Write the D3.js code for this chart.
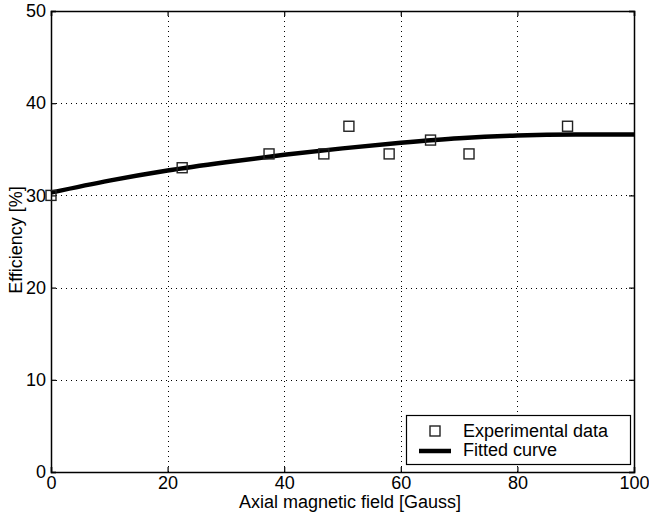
<!DOCTYPE html>
<html><head><meta charset="utf-8">
<script src="https://cdn.jsdelivr.net/npm/d3@7"></script>
<style>body{margin:0;background:#fff;} text{font-family:"Liberation Sans",Arial,Helvetica,sans-serif;fill:#000;}</style>
</head><body><svg id="c" width="649" height="518"></svg>
<script>
const expX = [0, 22.5, 37.4, 46.8, 51.1, 58.0, 65.1, 71.7, 88.6];
const expY = [30.0, 33.0, 34.5, 34.5, 37.5, 34.5, 36.0, 34.5, 37.5];
const fitX = [0, 10, 20, 30, 40, 50, 60, 70, 80, 90, 100];
const fitY = [30.3, 31.6, 32.7, 33.6, 34.4, 35.1, 35.7, 36.2, 36.5, 36.6, 36.6];
const xTicks = [0, 20, 40, 60, 80, 100];
const yTicks = [0, 10, 20, 30, 40, 50];
const xLabel = "Axial magnetic field [Gauss]";
const yLabel = "Efficiency [%]";
const legendLabels = ["Experimental data", "Fitted curve"];

const L = 51, R = 634, T = 11, B = 472;
const svg = d3.select("#c");
const x = d3.scaleLinear().domain([0, 100]).range([L, R]);
const y = d3.scaleLinear().domain([0, 50]).range([B, T]);

// grid
const grid = svg.append("g").attr("stroke", "#000").attr("stroke-width", 1).attr("stroke-dasharray", "1,4");
grid.selectAll(".gx").data(xTicks.slice(1, -1)).enter().append("line")
  .attr("x1", d => Math.round(x(d)) + 0.5).attr("x2", d => Math.round(x(d)) + 0.5).attr("y1", T).attr("y2", B);
grid.selectAll(".gy").data(yTicks.slice(1, -1)).enter().append("line")
  .attr("y1", d => Math.round(y(d)) + 0.5).attr("y2", d => Math.round(y(d)) + 0.5).attr("x1", L).attr("x2", R);

// axes (inward ticks)
const fs = 18;
const axB = svg.append("g").attr("transform", `translate(0,${B})`)
  .call(d3.axisBottom(x).tickValues(xTicks).tickSize(-5).tickPadding(4));
const axT = svg.append("g").attr("transform", `translate(0,${T})`)
  .call(d3.axisTop(x).tickValues(xTicks).tickSize(-5).tickFormat(""));
const axL = svg.append("g").attr("transform", `translate(${L},0)`)
  .call(d3.axisLeft(y).tickValues(yTicks).tickSize(-5).tickPadding(5));
const axR = svg.append("g").attr("transform", `translate(${R},0)`)
  .call(d3.axisRight(y).tickValues(yTicks).tickSize(-5).tickFormat(""));
[axB, axT, axL, axR].forEach(a => {
  a.selectAll("path").attr("stroke", "#000").attr("stroke-width", 1.5);
  a.selectAll("line").attr("stroke", "#000").attr("stroke-width", 1.2);
  a.selectAll("text").attr("font-size", fs).attr("font-family", '"Liberation Sans",Arial,sans-serif');
});

// fitted curve
const line = d3.line().x((d, i) => x(fitX[i])).y(d => y(d)).curve(d3.curveMonotoneX);
svg.append("path").datum(fitY).attr("d", line).attr("fill", "none").attr("stroke", "#000").attr("stroke-width", 4.5);

// markers
const ms = 10;
svg.append("g").selectAll("rect").data(expX).enter().append("rect")
  .attr("x", (d) => x(d) - ms / 2).attr("y", (d, i) => y(expY[i]) - ms / 2)
  .attr("width", ms).attr("height", ms).attr("fill", "none").attr("stroke", "#222").attr("stroke-width", 1.4);

// axis titles
svg.append("text").attr("x", 350).attr("y", 508).attr("text-anchor", "middle").attr("font-size", fs).text(xLabel);
svg.append("text").attr("transform", `translate(22,240) rotate(-90)`).attr("text-anchor", "middle").attr("font-size", fs).text(yLabel);

// legend
const lg = svg.append("g");
lg.append("rect").attr("x", 406.5).attr("y", 415.5).attr("width", 224).attr("height", 49).attr("fill", "#fff").attr("stroke", "#000").attr("stroke-width", 1.2);
lg.append("rect").attr("x", 435 - 5).attr("y", 431 - 5).attr("width", 10).attr("height", 10).attr("fill", "none").attr("stroke", "#222").attr("stroke-width", 1.4);
lg.append("line").attr("x1", 419).attr("x2", 451).attr("y1", 451).attr("y2", 451).attr("stroke", "#000").attr("stroke-width", 4.5);
lg.selectAll("text.lt").data(legendLabels).enter().append("text").attr("class", "lt")
  .attr("x", 463).attr("y", (d, i) => 437 + i * 19).attr("font-size", fs).text(d => d);
</script></body></html>
